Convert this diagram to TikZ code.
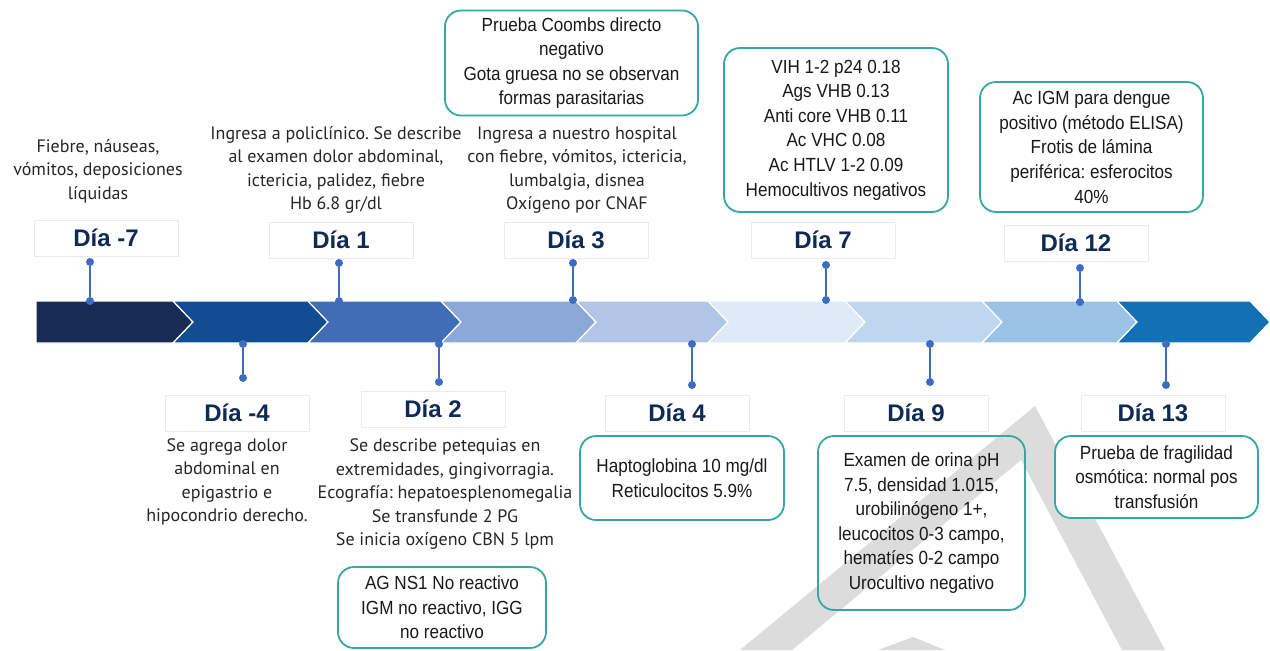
\documentclass[tikz,border=0pt]{standalone}
\usepackage{fontspec}
\setmainfont{PT Sans}
\newfontfamily\boxfont[FakeStretch=0.9]{Liberation Sans}
\newfontfamily\dayfont{Liberation Sans}
\usetikzlibrary{positioning}
\frenchspacing
\definecolor{daynavy}{HTML}{102A56}
\definecolor{boxteal}{HTML}{34A8A3}
\definecolor{pinblue}{HTML}{3D6CC0}
\definecolor{seg1}{HTML}{182B55}
\definecolor{seg2}{HTML}{124D93}
\definecolor{seg3}{HTML}{3F6EB5}
\definecolor{seg4}{HTML}{8CA8D7}
\definecolor{seg5}{HTML}{B2C5E6}
\definecolor{seg6}{HTML}{DDEAF7}
\definecolor{seg7}{HTML}{BED7EE}
\definecolor{seg8}{HTML}{9BC3E5}
\definecolor{seg9}{HTML}{1270B5}
\definecolor{wmgray}{HTML}{DCDCDC}
\tikzstyle{daybox} = [draw=black!8, line width=0.4pt, minimum width=72pt,
    minimum height=18pt, text=daynavy,
    font=\dayfont\bfseries\fontsize{12}{14}\selectfont]
\tikzstyle{note} = [align=center, inner sep=0pt, text=black!85,
    font=\fontsize{9}{11.75}\selectfont]
\tikzstyle{result} = [draw=boxteal, line width=0.9pt, rounded corners=8pt,
    align=center, inner sep=0pt, text=black!90,
    font=\boxfont\fontsize{9.5}{12.3}\selectfont]
\tikzstyle{dot} = [circle, fill=pinblue, inner sep=0pt, minimum size=4pt]
\tikzstyle{edge} = [draw=pinblue, line width=1.25pt]

\begin{document}
\begin{tikzpicture}[x=0.5pt, y=-0.5pt]
  \useasboundingbox (0,0) rectangle (1270,650);

  % Watermark
  \fill[wmgray] (740,650) -- (1035,406) -- (1165,650) -- (1122,650)
    -- (1021,460) -- (792,650) -- cycle;
  \fill[wmgray] (878,650) -- (913,637) -- (945,650) -- cycle;

  % Timeline
  \foreach \a/\b/\d/\c in {36/173/0/seg1, 173/308/20/seg2, 308/441/20/seg3,
      441/576/20/seg4, 576/708/20/seg5, 708/845/20/seg6, 845/982/20/seg7,
      982/1117/20/seg8, 1117/1250/20/seg9}
    \filldraw[fill=\c, draw=white, line width=0.6pt] (\a,301) -- (\b,301)
      -- (\b+20,322) -- (\b,343) -- (\a,343) -- (\a+\d,322) -- cycle;

  % Place nodes
  \node [daybox] (dm7) at (106,238) {Día -7};
  \node [daybox] (d1) at (341,240) {Día 1};
  \node [daybox] (d3) at (576,240) {Día 3};
  \node [daybox] (d7) at (823,240) {Día 7};
  \node [daybox] (d12) at (1076,243) {Día 12};
  \node [daybox] (dm4) at (237,413) {Día -4};
  \node [daybox] (d2) at (433,409) {Día 2};
  \node [daybox] (d4) at (677,413) {Día 4};
  \node [daybox] (d9) at (916,413) {Día 9};
  \node [daybox] (d13) at (1153,413) {Día 13};

  \node [note] (tm7) at (98,171) {Fiebre, náuseas,\\vómitos, deposiciones\\líquidas};
  \node [note] (t1) at (336,170) {Ingresa a policlínico. Se describe\\
    al examen dolor abdominal,\\ictericia, palidez, fiebre\\Hb 6.8 gr/dl};
  \node [note] (t3) at (577,170) {Ingresa a nuestro hospital\\
    con fiebre, vómitos, ictericia,\\lumbalgia, disnea\\Oxígeno por CNAF};
  \node [note] (tm4) at (227,482) {Se agrega dolor\\abdominal en\\
    epigastrio e\\hipocondrio derecho.};
  \node [note] (t2) at (445,494) {Se describe petequias en\\
    extremidades, gingivorragia.\\Ecografía: hepatoesplenomegalia\\
    Se transfunde 2 PG\\Se inicia oxígeno CBN 5 lpm};

  \node [result, minimum width=126.5pt, minimum height=52.5pt] (coombs)
    at (571.5,63) {Prueba Coombs directo\\negativo\\
    Gota gruesa no se observan\\formas parasitarias};
  \node [result, minimum width=112pt, minimum height=82pt] (virus)
    at (836,130) {VIH 1-2 p24 0.18\\Ags VHB 0.13\\Anti core VHB 0.11\\
    Ac VHC 0.08\\Ac HTLV 1-2 0.09\\Hemocultivos negativos};
  \node [result, minimum width=111.5pt, minimum height=65pt] (dengue)
    at (1091.5,147) {Ac IGM para dengue\\positivo (método ELISA)\\
    Frotis de lámina\\periférica: esferocitos\\40\%};
  \node [result, minimum width=104pt, minimum height=40.5pt] (ns1)
    at (442,607.5) {AG NS1 No reactivo\\IGM no reactivo, IGG\\no reactivo};
  \node [result, minimum width=102pt, minimum height=42pt] (hapto)
    at (682,478) {Haptoglobina 10 mg/dl\\Reticulocitos 5.9\%};
  \node [result, minimum width=103.5pt, minimum height=87pt] (orina)
    at (921.5,523) {Examen de orina pH\\7.5, densidad 1.015,\\
    urobilinógeno 1+,\\leucocitos 0-3 campo,\\hematíes 0-2 campo\\
    Urocultivo negativo};
  \node [result, fill=white, minimum width=101.5pt, minimum height=41pt] (osmo)
    at (1156.5,477) {Prueba de fragilidad\\osmótica: normal pos\\transfusión};

  % Pins
  \foreach \n/\x/\ya/\yb in {pm7/90/301/262, p1/339/301/263, p3/573/300/263,
      p7/826/300/265, p12/1080/302/268, pm4/243/344/378, p2/439/344/382,
      p4/692/344/385, p9/930/344/382, p13/1166/344/385} {
    \node [dot] (\n a) at (\x,\ya) {};
    \node [dot] (\n b) at (\x,\yb) {};
    \path [edge] (\n a) -- (\n b);
  }
\end{tikzpicture}
\end{document}
